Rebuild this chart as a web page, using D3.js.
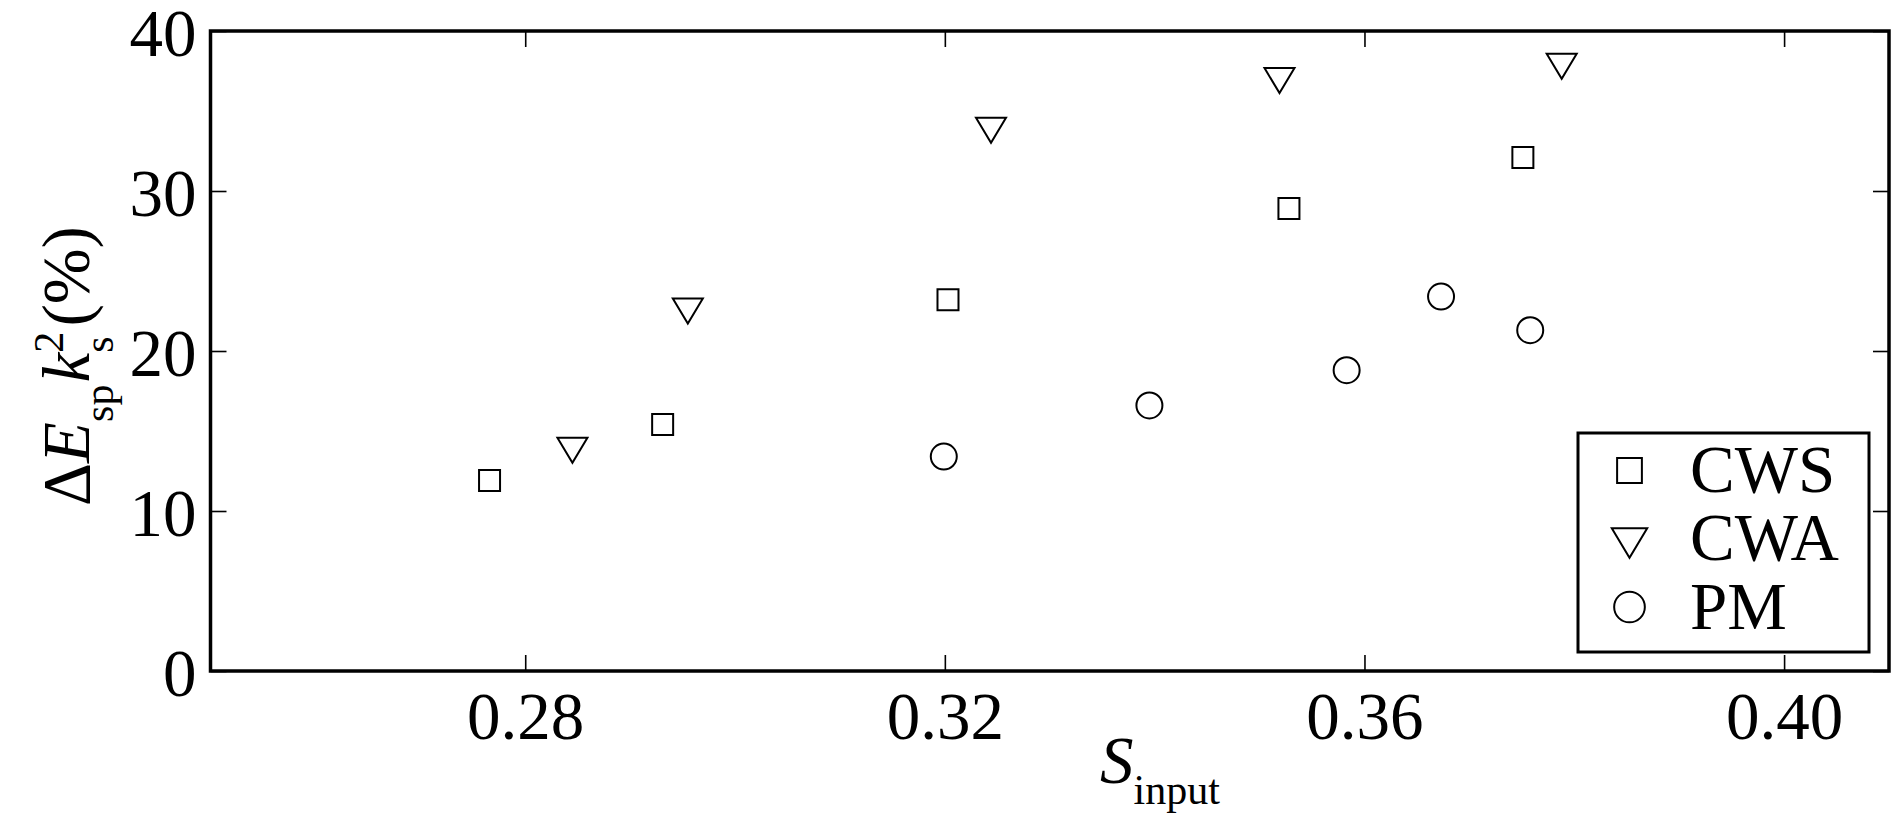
<!DOCTYPE html>
<html>
<head>
<meta charset="utf-8">
<script src="https://cdn.jsdelivr.net/npm/d3@7"></script>
<style>
  html, body { margin: 0; padding: 0; background: #fff; }
  svg { display: block; }
  text { font-family: "Liberation Serif", "Times New Roman", serif; fill: #000; }
</style>
</head>
<body>
<svg id="chart" width="1899" height="825"></svg>
<script>
// ---- data ----
const xTicks = [0.28, 0.32, 0.36, 0.40];
const yTicks = [0, 10, 20, 30, 40];
const seriesNames = ["CWS", "CWA", "PM"];
const cwsX = [0.2766, 0.2931, 0.3203, 0.3528, 0.3751];
const cwsY = [11.9, 15.4, 23.2, 28.9, 32.1];
const cwaX = [0.2845, 0.2955, 0.3244, 0.3519, 0.3788];
const cwaY = [13.8, 22.5, 33.8, 36.9, 37.8];
const pmX  = [0.3199, 0.3395, 0.3583, 0.3673, 0.3758];
const pmY  = [13.4, 16.6, 18.8, 23.4, 21.3];

// ---- layout ----
const svg = d3.select("#chart");
const L = 210.5, R = 1889, T = 31, B = 671;
const x = d3.scaleLinear().domain([0.25, 0.41]).range([L, R]);
const y = d3.scaleLinear().domain([0, 40]).range([B, T]);
const FS = 67, SUB = 42, TICK = 16;

svg.append("rect").attr("width", 1899).attr("height", 825).attr("fill", "#fff");

// axes with inward ticks
const gB = svg.append("g").attr("transform", `translate(0,${B})`)
  .call(d3.axisBottom(x).tickValues(xTicks).tickSize(-TICK).tickFormat(d3.format(".2f")));
const gT = svg.append("g").attr("transform", `translate(0,${T})`)
  .call(d3.axisTop(x).tickValues(xTicks).tickSize(-TICK).tickFormat(""));
const gL = svg.append("g").attr("transform", `translate(${L},0)`)
  .call(d3.axisLeft(y).tickValues(yTicks).tickSize(-TICK).tickFormat(d3.format("d")));
const gR = svg.append("g").attr("transform", `translate(${R},0)`)
  .call(d3.axisRight(y).tickValues(yTicks).tickSize(-TICK).tickFormat(""));

[gB, gT, gL, gR].forEach(g => {
  g.select(".domain").remove();
  g.selectAll(".tick line").attr("stroke", "#000").attr("stroke-width", 1.6);
  g.selectAll("text").attr("font-family", null).attr("font-size", FS).attr("fill", "#000");
});
gB.selectAll(".tick text").attr("y", 68).attr("dy", 0);
gL.selectAll(".tick text").attr("x", -14).attr("dy", 24);

// frame
svg.append("rect").attr("x", L).attr("y", T).attr("width", R - L).attr("height", B - T)
  .attr("fill", "none").attr("stroke", "#000").attr("stroke-width", 3.5);

// marker shapes
function markerPath(kind, s) {
  if (kind === "CWS") return d3.symbol(d3.symbolSquare, (21 * s) * (21 * s))();
  if (kind === "PM") return d3.symbol(d3.symbolCircle, Math.PI * (13 * s) * (13 * s))();
  const w = 15 * s, h = 12.5 * s;
  return `M${-w},${-h}L${w},${-h}L0,${h}Z`;
}

const series = [
  { name: "CWS", xs: cwsX, ys: cwsY },
  { name: "CWA", xs: cwaX, ys: cwaY },
  { name: "PM",  xs: pmX,  ys: pmY }
];
series.forEach(sr => {
  const pts = sr.xs.map((v, i) => [v, sr.ys[i]]);
  svg.append("g").selectAll("path").data(pts).join("path")
    .attr("transform", d => `translate(${x(d[0])},${y(d[1])})`)
    .attr("d", markerPath(sr.name, 1))
    .attr("fill", "none").attr("stroke", "#000").attr("stroke-width", 2)
    .attr("stroke-linejoin", "miter");
});

// legend
const lg = svg.append("g");
lg.append("rect").attr("x", 1578).attr("y", 433).attr("width", 291).attr("height", 219)
  .attr("fill", "#fff").attr("stroke", "#000").attr("stroke-width", 3);
const legMarkY = [470.5, 543, 607];
const legTextY = [492, 560, 629];
seriesNames.forEach((n, i) => {
  lg.append("path").attr("transform", `translate(1629.5,${legMarkY[i]})`)
    .attr("d", markerPath(n, 1.18))
    .attr("fill", "none").attr("stroke", "#000").attr("stroke-width", 2);
  lg.append("text").attr("x", 1690).attr("y", legTextY[i]).attr("font-size", FS).text(n);
});

// x label
const xl = svg.append("text").attr("x", 1100).attr("y", 783).attr("font-size", FS);
xl.append("tspan").attr("font-style", "italic").text("S");
xl.append("tspan").attr("font-size", SUB).attr("dy", 21).text("input");

// y label (rotated)
const yl = svg.append("text").attr("transform", "translate(89,506) rotate(-90)").attr("font-size", FS);
yl.append("tspan").text("Δ");
yl.append("tspan").attr("font-style", "italic").text("E");
yl.append("tspan").attr("font-size", SUB).attr("dy", 24).text("sp");
yl.append("tspan").attr("font-style", "italic").attr("dy", -24).attr("dx", 2).text("k");
yl.append("tspan").attr("font-size", SUB).attr("dy", -26).text("2");
yl.append("tspan").attr("font-size", SUB).attr("dx", -21).attr("dy", 50).text("s");
yl.append("tspan").attr("dy", -24).attr("dx", 10).text("(%)");
</script>
</body>
</html>
